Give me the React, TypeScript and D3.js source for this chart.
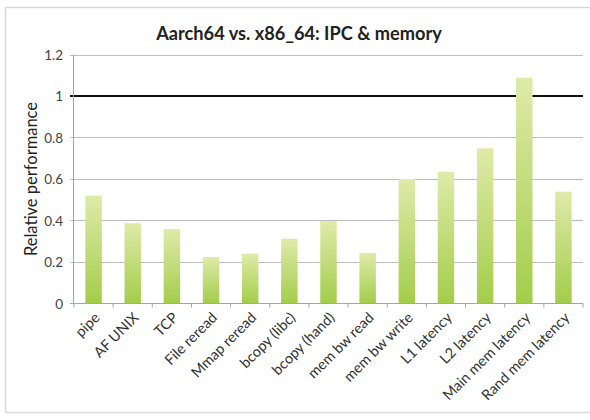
import React from "react";
import * as d3 from "d3";

const categories = [
  "pipe", "AF UNIX", "TCP", "File reread", "Mmap reread", "bcopy (libc)",
  "bcopy (hand)", "mem bw read", "mem bw write", "L1 latency", "L2 latency",
  "Main mem latency", "Rand mem latency",
];
const values = [0.52, 0.387, 0.358, 0.224, 0.24, 0.312, 0.397, 0.243, 0.6, 0.635, 0.748, 1.088, 0.539];
const yTicks = [0, 0.2, 0.4, 0.6, 0.8, 1, 1.2];
const yTickLabels = ["0", "0.2", "0.4", "0.6", "0.8", "1", "1.2"];
const referenceValue = [1];
const title = "Aarch64 vs. x86_64: IPC & memory";
const yLabel = "Relative performance";

const W = 590, H = 420;
const plot = { left: 74, right: 583, top: 54.5, bottom: 303.5 };
const FONT = "Lato, 'Open Sans', sans-serif";

export default function App() {
  const x = d3.scaleBand<string>().domain(categories).range([plot.left, plot.right]).paddingInner(0.58).paddingOuter(0.29);
  const xb = d3.scaleBand<string>().domain(categories).range([plot.left, plot.right]);
  const y = d3.scaleLinear().domain([0, 1.2]).range([plot.bottom, plot.top]);
  const tickXs = d3.range(categories.length + 1).map((i) => plot.left + i * xb.step());

  return (
    <svg width={W} height={H} style={{ position: "absolute", left: 0, top: 0, background: "#fff" }}>
      <defs>
        <linearGradient id="barGrad" x1="0" y1="0" x2="0" y2="1">
          <stop offset="0%" stopColor="#dfeaa9" />
          <stop offset="100%" stopColor="#a3cd4a" />
        </linearGradient>
      </defs>
      <rect x={5.5} y={7.5} width={600} height={405} fill="#fff" stroke="#d9d9d9" strokeWidth={1.5} />
      <text x={299} y={40} textAnchor="middle" fontFamily={FONT} fontWeight="bold" fontSize={18.2} fill="#222">
        {title}
      </text>
      {/* gridlines */}
      {yTicks.filter((t) => t !== 0 && t !== 1).map((t) => (
        <line key={t} x1={plot.left - 4} x2={plot.right} y1={Math.round(y(t)) + 0.5} y2={Math.round(y(t)) + 0.5} stroke="#bdbdbd" strokeWidth={1} />
      ))}
      {/* reference line at 1 */}
      {referenceValue.map((v) => (
        <line key={v} x1={plot.left - 4} x2={plot.right} y1={y(v)} y2={y(v)} stroke="#111" strokeWidth={2.2} />
      ))}
      {/* y axis */}
      <line x1={plot.left - 0.5} x2={plot.left - 0.5} y1={plot.top} y2={plot.bottom} stroke="#a6a6a6" strokeWidth={1} />
      {yTicks.map((t, i) => (
        <text key={t} x={plot.left - 11} y={y(t) + 5} textAnchor="end" fontFamily={FONT} fontSize={13.5} fill="#444">
          {yTickLabels[i]}
        </text>
      ))}
      <text transform={`translate(37,179) rotate(-90)`} textAnchor="middle" fontFamily={FONT} fontSize={16.5} fill="#222">
        {yLabel}
      </text>
      {/* bars */}
      {categories.map((c, i) => (
        <rect key={c} x={x(c)} y={y(values[i])} width={x.bandwidth()} height={y(0) - y(values[i])} fill="url(#barGrad)" />
      ))}
      {/* x axis */}
      <line x1={plot.left - 4} x2={plot.right} y1={plot.bottom} y2={plot.bottom} stroke="#a6a6a6" strokeWidth={1} />
      {tickXs.map((tx, i) => (
        <line key={i} x1={tx} x2={tx} y1={plot.bottom} y2={plot.bottom + 4} stroke="#a6a6a6" strokeWidth={1} />
      ))}
      {categories.map((c) => {
        const cx = (xb(c) as number) + xb.bandwidth() / 2 + 7;
        return (
          <text key={c} transform={`translate(${cx},${plot.bottom + 15}) rotate(-45)`} textAnchor="end" fontFamily={FONT} fontSize={14.5} fill="#333">
            {c}
          </text>
        );
      })}
    </svg>
  );
}
